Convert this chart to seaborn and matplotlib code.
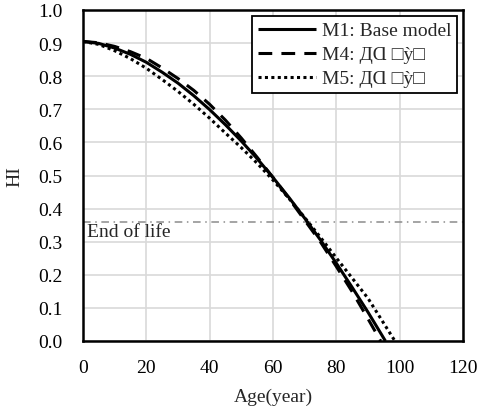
import matplotlib
matplotlib.use("Agg")
import matplotlib.pyplot as plt
import seaborn as sns
import pandas as pd

# ---- data ----
age_m1 = [0, 5, 10, 15, 20, 25, 30, 35, 40, 45, 50, 55, 60, 65, 70, 75, 80, 85, 90, 95.5]
hi_m1 = [0.905, 0.899, 0.885, 0.866, 0.842, 0.812, 0.779, 0.741, 0.699, 0.653,
         0.604, 0.551, 0.494, 0.434, 0.371, 0.305, 0.235, 0.162, 0.087, 0.0]

age_m4 = [0, 5, 10, 15, 20, 25, 30, 35, 40, 45, 50, 55, 60, 65, 70, 75, 80, 85, 90, 94]
hi_m4 = [0.905, 0.901, 0.890, 0.874, 0.854, 0.825, 0.793, 0.757, 0.715, 0.667,
         0.613, 0.555, 0.494, 0.431, 0.365, 0.299, 0.225, 0.149, 0.067, 0.0]

age_m5 = [0, 5, 10, 15, 20, 25, 30, 35, 40, 45, 50, 55, 60, 65, 70, 75, 80, 85, 90, 95, 98.5]
hi_m5 = [0.905, 0.896, 0.877, 0.853, 0.824, 0.790, 0.754, 0.715, 0.673, 0.628,
         0.584, 0.537, 0.486, 0.431, 0.373, 0.313, 0.251, 0.190, 0.129, 0.053, 0.0]

labels = ["M1: Base model", "M4: ДⱭ □ỳ□", "M5: ДⱭ □ỳ□"]
end_of_life = 0.36
x_ticks = [0, 20, 40, 60, 80, 100, 120]
y_ticks = [0.0, 0.1, 0.2, 0.3, 0.4, 0.5, 0.6, 0.7, 0.8, 0.9, 1.0]

FS = 14

# ---- style ----
sns.set_theme(style="white")
plt.rcParams["font.family"] = ["Liberation Serif", "DejaVu Serif"]
plt.rcParams["font.size"] = FS

fig = plt.figure(figsize=(4.81, 4.10), dpi=100)
ax = fig.add_axes([83 / 481, 1 - 342 / 410, 380 / 481, 331 / 410])

df1 = pd.DataFrame({"Age": age_m1, "HI": hi_m1})
df4 = pd.DataFrame({"Age": age_m4, "HI": hi_m4})
df5 = pd.DataFrame({"Age": age_m5, "HI": hi_m5})

lw = 2.2
sns.lineplot(data=df1, x="Age", y="HI", ax=ax, color="black", lw=lw, label=labels[0])
sns.lineplot(data=df4, x="Age", y="HI", ax=ax, color="black", lw=lw, label=labels[1])
sns.lineplot(data=df5, x="Age", y="HI", ax=ax, color="black", lw=lw, label=labels[2])
lines = ax.get_lines()
lines[1].set_dashes((4.5, 3))
lines[2].set_dashes((1, 1.1))
for ln in lines:
    ln.set_solid_capstyle("butt")
    ln.set_dash_capstyle("butt")

ax.axhline(end_of_life, color="#8c8c8c", lw=1.1, dashes=(5, 3, 1, 3), zorder=1)
ax.text(1.2, end_of_life - 0.004, "End of life", va="top", ha="left", fontsize=FS)

ax.set_xlim(0, 120)
ax.set_ylim(0, 1.0)
ax.set_xticks(x_ticks)
ax.set_yticks(y_ticks)
ax.set_yticklabels([f"{v:.1f}" for v in y_ticks])
ax.tick_params(axis="both", length=0, labelsize=FS, colors="black")
ax.tick_params(axis="x", pad=13)
ax.tick_params(axis="y", pad=15)
ax.grid(True, color="#d9d9d9", lw=1.2)
ax.set_axisbelow(True)
for s in ax.spines.values():
    s.set_color("black")
    s.set_linewidth(1.8)
    s.set_visible(True)

ax.set_xlabel("Age(year)", fontsize=FS)
ax.set_ylabel("HI", fontsize=FS)
ax.xaxis.set_label_coords(0.5, -0.168)
ax.yaxis.set_label_coords(-0.178, 0.5)
ax.xaxis.label.set_va("center")
ax.yaxis.label.set_va("center")

leg = ax.legend(loc="upper right", bbox_to_anchor=(0.985, 0.982), borderaxespad=0,
                fancybox=False, framealpha=1, edgecolor="black", handlelength=3.0,
                handletextpad=0.3, labelspacing=0.33, borderpad=0.3, fontsize=FS)
leg.get_frame().set_linewidth(1.3)

fig.savefig("out.png", dpi=100)
